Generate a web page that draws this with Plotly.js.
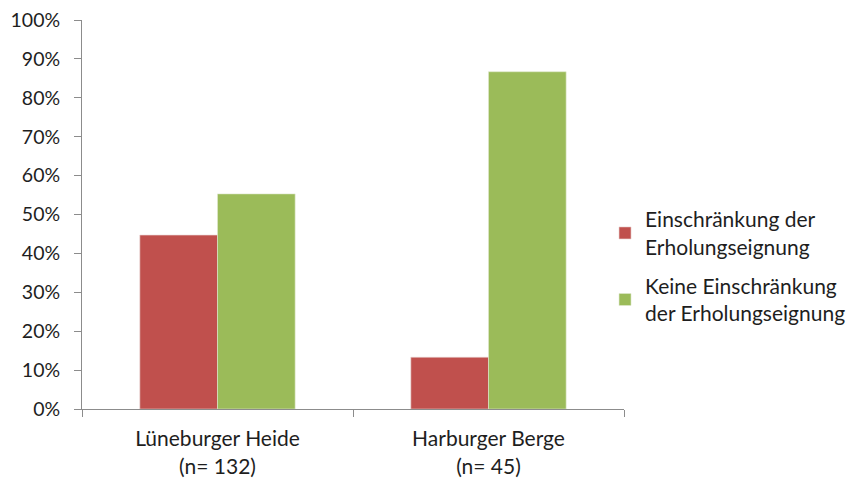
<!DOCTYPE html>
<html>
<head>
<meta charset="utf-8">
<script src="https://cdn.plot.ly/plotly-3.0.1.min.js"></script>
<style>
  html, body { margin: 0; padding: 0; background: #fff; }
  #chart { width: 848px; height: 478px; }
</style>
</head>
<body>
<div id="chart"></div>
<script>
// Regions surveyed, with sample sizes shown under each group
const categories = ["Lüneburger Heide<br>(n= 132)", "Harburger Berge<br>(n= 45)"];
const seriesNames = ["Einschränkung der<br>Erholungseignung", "Keine Einschränkung<br>der Erholungseignung"];
// Share of respondents (%) per region
const restricted = [44.7, 13.3];
const notRestricted = [55.3, 86.7];
const yTickValues = [0, 10, 20, 30, 40, 50, 60, 70, 80, 90, 100];
const yTickLabels = ["0%", "10%", "20%", "30%", "40%", "50%", "60%", "70%", "80%", "90%", "100%"];

const family = "Lato, 'Open Sans', sans-serif";
const textColor = "#1e1e1e";
const tickFont = { family: family, size: 19.5, color: textColor };
const labelFont = { family: family, size: 21, color: textColor };
const axisColor = "#8c8c8c";

const traces = [
  {
    type: "bar", name: seriesNames[0], x: categories, y: restricted, legendgroup: "a",
    marker: { color: "#C0504D", line: { color: "#e6d0cf", width: 0.6 } }
  },
  {
    type: "bar", name: seriesNames[1], x: categories, y: notRestricted, legendgroup: "b",
    marker: { color: "#9BBB59", line: { color: "#e0ead0", width: 0.6 } }
  }
];

const layout = {
  width: 848, height: 478,
  margin: { l: 82, r: 224, t: 20, b: 69, autoexpand: false },
  paper_bgcolor: "#fff", plot_bgcolor: "#fff",
  font: labelFont,
  barmode: "group",
  bargap: 0.427, bargroupgap: 0,
  showlegend: true,
  legend: {
    x: 0.965, xanchor: "left", y: 0.366, yanchor: "middle",
    font: labelFont, tracegroupgap: 9, itemwidth: 30
  },
  xaxis: {
    type: "category",
    showline: true, linecolor: axisColor, linewidth: 1,
    ticks: "outside", tickson: "boundaries", ticklen: 7, tickcolor: axisColor,
    showgrid: false, zeroline: false,
    tickfont: labelFont, ticklabelstandoff: 11
  },
  yaxis: {
    range: [0, 100],
    tickvals: yTickValues, ticktext: yTickLabels,
    showline: true, linecolor: axisColor, linewidth: 1,
    ticks: "outside", ticklen: 7, tickcolor: axisColor,
    showgrid: false, zeroline: false,
    tickfont: tickFont, ticklabelstandoff: 10
  }
};

Plotly.newPlot("chart", traces, layout, { displayModeBar: false, staticPlot: true });
</script>
</body>
</html>
